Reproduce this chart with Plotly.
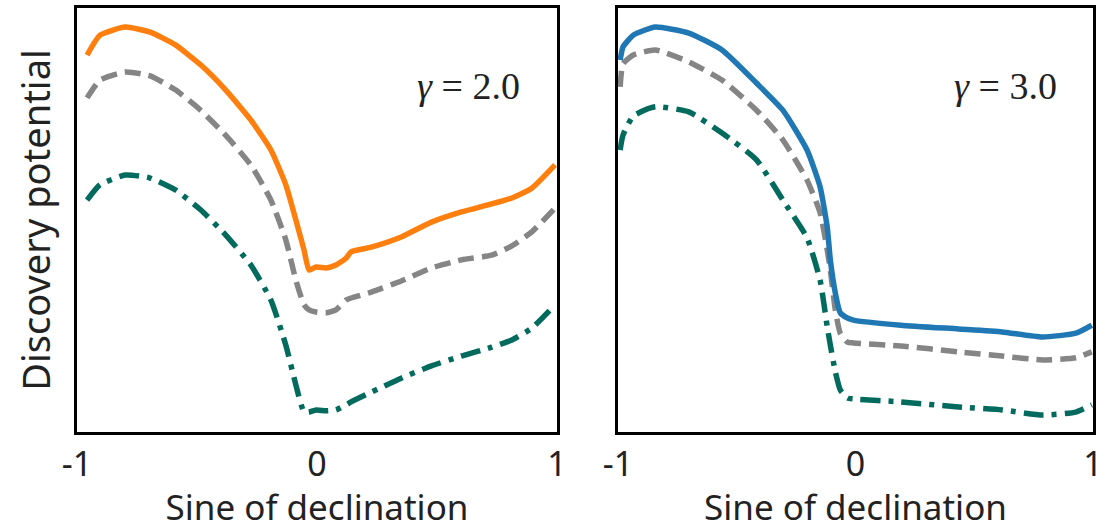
import plotly.graph_objects as go

# ---------------- data ----------------
# Left panel (gamma = 2.0)
x_left = [-0.958, -0.904, -0.799, -0.695, -0.590, -0.485, -0.381, -0.276, -0.192, -0.130,
          -0.088, -0.054, -0.033, -0.004, 0.038, 0.079, 0.121, 0.142, 0.226, 0.351,
          0.477, 0.602, 0.728, 0.812, 0.895, 0.992]
left_solid = [88.9, 93.6, 95.5, 94.3, 91.3, 86.6, 80.7, 73.6, 66.5, 58.3,
              50.0, 42.9, 38.2, 38.9, 38.7, 39.4, 41.0, 42.5, 43.6, 46.0,
              49.5, 51.9, 53.8, 55.2, 57.5, 63.0]
left_dashed = [78.8, 83.0, 84.9, 84.0, 80.7, 75.9, 70.0, 63.0, 54.7, 45.3,
               35.8, 30.0, 28.8, 28.3, 28.1, 28.8, 31.1, 31.6, 33.0, 35.6,
               38.7, 40.6, 41.7, 43.9, 47.2, 52.8]
left_dashdot = [54.7, 58.3, 60.6, 59.9, 57.1, 52.4, 46.5, 39.4, 31.1, 20.5,
                11.1, 4.7, 4.7, 5.2, 5.0, 5.2, 6.4, 7.1, 9.4, 12.7,
                15.6, 17.9, 20.0, 21.7, 24.5, 30.0]

# Right panel (gamma = 3.0)
x_right = [-0.991, -0.979, -0.936, -0.843, -0.702, -0.562, -0.417, -0.306, -0.204, -0.149,
           -0.119, -0.106, -0.085, -0.064, -0.034, -0.009, 0.191, 0.434, 0.617, 0.787,
           0.928, 0.995]
right_solid = [87.7, 90.8, 93.6, 95.5, 94.1, 90.1, 82.3, 75.9, 66.5, 57.8,
               48.3, 40.6, 32.8, 28.1, 26.9, 26.4, 25.2, 24.3, 23.6, 22.4,
               23.3, 25.2]
right_dashed = [81.4, 86.8, 88.9, 90.1, 87.3, 83.0, 75.9, 68.9, 59.4, 51.7,
                42.9, 38.2, 28.8, 23.3, 21.2, 21.0, 20.3, 18.9, 17.9, 17.0,
                17.5, 18.9]
right_dashdot = [66.5, 70.0, 74.5, 76.7, 75.5, 70.5, 64.2, 54.7, 45.8, 35.8,
                 24.8, 20.5, 14.2, 9.9, 8.0, 7.8, 7.1, 5.9, 5.2, 4.0,
                 4.7, 6.4]

tick_vals = [-1, 0, 1]
tick_text = ["-1", "0", "1"]
panel_labels = ["<i>γ</i> = 2.0", "<i>γ</i> = 3.0"]
x_title = "Sine of declination"
y_title = "Discovery potential"

# ---------------- styles ----------------
ORANGE = "#ff7f0e"
BLUE = "#1f77b4"
GRAY = "#858585"
TEAL = "#036b5e"
LW = 5.5
FONT = "Comic Sans MS, Humor Sans, Noto Sans, sans-serif"
DASH = "16px,8px"
DASHDOT = "20px,8px,5px,8px"

fig = go.Figure()

def add(x, y, color, dash, xa, ya):
    fig.add_trace(go.Scatter(x=x, y=y, mode="lines", xaxis=xa, yaxis=ya,
                             line=dict(color=color, width=LW, dash=dash, shape="spline", smoothing=0.5),
                             showlegend=False, hoverinfo="skip"))

add(x_left, left_dashdot, TEAL, DASHDOT, "x", "y")
add(x_left, left_dashed, GRAY, DASH, "x", "y")
add(x_left, left_solid, ORANGE, "solid", "x", "y")
add(x_right, right_dashdot, TEAL, DASHDOT, "x2", "y2")
add(x_right, right_dashed, GRAY, DASH, "x2", "y2")
add(x_right, right_solid, BLUE, "solid", "x2", "y2")

W, H = 1107, 530
dom_y = [1 - 432 / H, 1 - 8 / H]

xcommon = dict(range=[-1, 1], tickvals=tick_vals, ticktext=tick_text, showgrid=False,
               zeroline=False, showline=True, linecolor="black", linewidth=3, mirror=True,
               ticks="", automargin=False, ticklabelstandoff=0,
               tickfont=dict(family=FONT, size=34, color="#222"),
               title=dict(text=x_title, font=dict(family=FONT, size=35, color="#222"), standoff=12))
ycommon = dict(range=[0, 100], showticklabels=False, showgrid=False, zeroline=False,
               showline=True, linecolor="black", linewidth=3, mirror=True, ticks="",
               automargin=False)

fig.update_layout(
    width=W, height=H, margin=dict(l=0, r=0, t=0, b=0),
    paper_bgcolor="white", plot_bgcolor="white",
    xaxis=dict(domain=[77 / W, 557 / W], anchor="y", **xcommon),
    yaxis=dict(domain=dom_y, anchor="x",
               title=dict(text=y_title, font=dict(family=FONT, size=38, color="#222"), standoff=12),
               **ycommon),
    xaxis2=dict(domain=[618 / W, 1093 / W], anchor="y2", **xcommon),
    yaxis2=dict(domain=dom_y, anchor="x2", **ycommon),
)

for i, (xr, yr) in enumerate([("x domain", "y domain"), ("x2 domain", "y2 domain")]):
    fig.add_annotation(x=0.815, y=0.815, xref=xr, yref=yr, xanchor="center", yanchor="middle",
                       text=panel_labels[i], showarrow=False,
                       font=dict(family="Liberation Serif, DejaVu Serif, serif", size=38, color="#222"))

fig.write_html("out.html")
